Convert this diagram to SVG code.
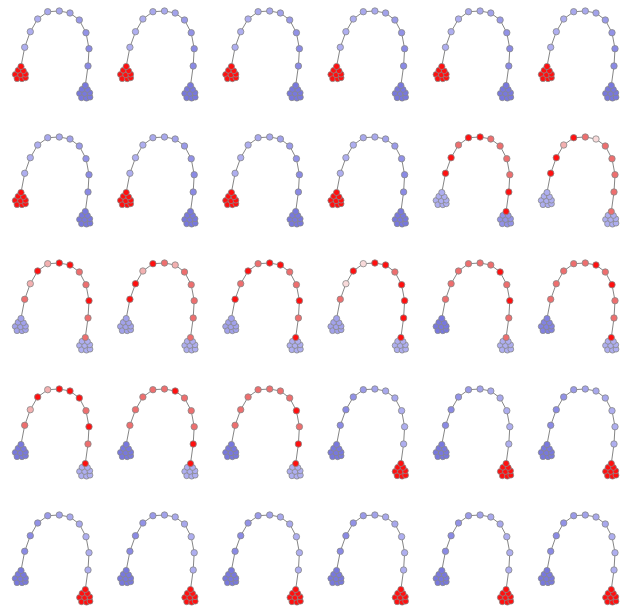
<svg xmlns="http://www.w3.org/2000/svg" xmlns:xlink="http://www.w3.org/1999/xlink" width="627" height="607" viewBox="0 0 627 607">
<style>
.pn{stroke:#888;stroke-width:0.8}
.r{fill:#ff1010}.s{fill:#ee6e6e}.p{fill:#f3b0b0}.v{fill:#f8dada}
.b{fill:#7878de}.l{fill:#aeaef0}
.g1{fill:#8282e2}.g2{fill:#8a8ae5}.g3{fill:#9292e7}.g4{fill:#9a9ae9}.g5{fill:#a2a2eb}.g6{fill:#a8a8ed}
</style>
<defs>
<g id="links" fill="none" stroke="#777" stroke-width="0.9">
<path d="M21,66.5 L24.7,47.3 L30.3,31.7 L37.7,19 L47.7,11.7 L59.3,11 L70,13 L79.3,20 L86,32.7 L89,48.7 L88,66 L85.3,85.5"/>
<path d="M21,66.5L18,70.3M21,66.5L23.5,70.8M18,70.3L23.5,70.8M18,70.3L15.2,74.5M18,70.3L20.5,74.8M23.5,70.8L20.5,74.8M23.5,70.8L25.5,74.2M15.2,74.5L20.5,74.8M20.5,74.8L25.5,74.2M15.2,74.5L17,78.7M20.5,74.8L17,78.7M20.5,74.8L22,78.8M25.5,74.2L25.5,77.8M22,78.8L25.5,77.8M17,78.7L22,78.8"/>
<path d="M85.3,85.5L82,89.3M85.3,85.5L87.5,89.5M82,89.3L87.5,89.5M82,89.3L79.5,93.5M82,89.3L84.7,93.5M87.5,89.5L84.7,93.5M87.5,89.5L89.8,92.8M79.5,93.5L84.7,93.5M84.7,93.5L89.8,92.8M79.5,93.5L81.5,97.8M84.7,93.5L81.5,97.8M84.7,93.5L86.5,98.2M89.8,92.8L90,97.2M86.5,98.2L90,97.2M81.5,97.8L86.5,98.2"/>
</g>
<g id="clL">
<circle cx="15.2" cy="74.5" r="2.9"/><circle cx="17" cy="78.7" r="2.9"/><circle cx="22" cy="78.8" r="2.9"/><circle cx="25.5" cy="77.8" r="2.9"/>
<circle cx="20.5" cy="74.8" r="2.9"/><circle cx="25.5" cy="74.2" r="2.9"/><circle cx="18" cy="70.3" r="2.9"/><circle cx="23.5" cy="70.8" r="2.9"/>
</g>
<g id="clR">
<circle cx="79.5" cy="93.5" r="2.9"/><circle cx="81.5" cy="97.8" r="2.9"/><circle cx="86.5" cy="98.2" r="2.9"/><circle cx="90" cy="97.2" r="2.9"/>
<circle cx="84.7" cy="93.5" r="2.9"/><circle cx="89.8" cy="92.8" r="2.9"/><circle cx="82" cy="89.3" r="2.9"/><circle cx="87.5" cy="89.5" r="2.9"/>
</g>
<circle id="n0" cx="21" cy="66.5" r="3.1"/>
<circle id="n1" cx="24.7" cy="47.3" r="3.2"/>
<circle id="n2" cx="30.3" cy="31.7" r="3.2"/>
<circle id="n3" cx="37.7" cy="19" r="3.2"/>
<circle id="n4" cx="47.7" cy="11.7" r="3.2"/>
<circle id="n5" cx="59.3" cy="11" r="3.2"/>
<circle id="n6" cx="70" cy="13" r="3.2"/>
<circle id="n7" cx="79.3" cy="20" r="3.2"/>
<circle id="n8" cx="86" cy="32.7" r="3.2"/>
<circle id="n9" cx="89" cy="48.7" r="3.2"/>
<circle id="n10" cx="88" cy="66" r="3.2"/>
<circle id="n11" cx="85.3" cy="85.5" r="3.1"/>
<g id="patA">
<use href="#links"/><use href="#clL" class="r"/><use href="#clR" class="b"/>
<use href="#n0" class="r"/><use href="#n1" class="l"/><use href="#n2" class="l"/><use href="#n3" class="l"/><use href="#n4" class="g6"/><use href="#n5" class="g6"/><use href="#n6" class="g5"/><use href="#n7" class="g4"/><use href="#n8" class="g3"/><use href="#n9" class="g2"/><use href="#n10" class="g2"/><use href="#n11" class="b"/>
</g>
<g id="patM">
<use href="#links"/><use href="#clL" class="b"/><use href="#clR" class="r"/>
<use href="#n0" class="b"/><use href="#n1" class="g2"/><use href="#n2" class="g2"/><use href="#n3" class="g3"/><use href="#n4" class="g4"/><use href="#n5" class="g5"/><use href="#n6" class="g6"/><use href="#n7" class="g6"/><use href="#n8" class="l"/><use href="#n9" class="l"/><use href="#n10" class="l"/><use href="#n11" class="r"/>
</g>
</defs>
<rect width="627" height="607" fill="#fff"/>

<g id="r1c1" class="pn" transform="translate(0,0)"><use href="#patA"/></g>
<g id="r1c2" class="pn" transform="translate(105.2,0)"><use href="#patA"/></g>
<g id="r1c3" class="pn" transform="translate(210.4,0)"><use href="#patA"/></g>
<g id="r1c4" class="pn" transform="translate(315.6,0)"><use href="#patA"/></g>
<g id="r1c5" class="pn" transform="translate(420.8,0)"><use href="#patA"/></g>
<g id="r1c6" class="pn" transform="translate(526,0)"><use href="#patA"/></g>

<g id="r2c1" class="pn" transform="translate(0,126)"><use href="#patA"/></g>
<g id="r2c2" class="pn" transform="translate(105.2,126)"><use href="#patA"/></g>
<g id="r2c3" class="pn" transform="translate(210.4,126)"><use href="#patA"/></g>
<g id="r2c4" class="pn" transform="translate(315.6,126)"><use href="#patA"/></g>
<g id="r2c5" class="pn" transform="translate(420.8,126)">
<use href="#links"/><use href="#clL" class="l"/><use href="#clR" class="g3"/>
<use href="#n0" class="l"/><use href="#n1" class="r"/><use href="#n2" class="r"/><use href="#n3" class="s"/><use href="#n4" class="r"/><use href="#n5" class="r"/><use href="#n6" class="s"/><use href="#n7" class="s"/><use href="#n8" class="s"/><use href="#n9" class="s"/><use href="#n10" class="r"/><use href="#n11" class="r"/>
</g>
<g id="r2c6" class="pn" transform="translate(526,126)">
<use href="#links"/><use href="#clL" class="l"/><use href="#clR" class="l"/>
<use href="#n0" class="l"/><use href="#n1" class="r"/><use href="#n2" class="r"/><use href="#n3" class="p"/><use href="#n4" class="r"/><use href="#n5" class="s"/><use href="#n6" class="v"/><use href="#n7" class="s"/><use href="#n8" class="s"/><use href="#n9" class="s"/><use href="#n10" class="s"/><use href="#n11" class="s"/>
</g>

<g id="r3c1" class="pn" transform="translate(0,252)">
<use href="#links"/><use href="#clL" class="g5"/><use href="#clR" class="l"/>
<use href="#n0" class="g5"/><use href="#n1" class="s"/><use href="#n2" class="p"/><use href="#n3" class="r"/><use href="#n4" class="p"/><use href="#n5" class="r"/><use href="#n6" class="r"/><use href="#n7" class="s"/><use href="#n8" class="s"/><use href="#n9" class="r"/><use href="#n10" class="s"/><use href="#n11" class="s"/>
</g>
<g id="r3c2" class="pn" transform="translate(105.2,252)">
<use href="#links"/><use href="#clL" class="g5"/><use href="#clR" class="l"/>
<use href="#n0" class="g5"/><use href="#n1" class="r"/><use href="#n2" class="r"/><use href="#n3" class="p"/><use href="#n4" class="r"/><use href="#n5" class="s"/><use href="#n6" class="p"/><use href="#n7" class="s"/><use href="#n8" class="s"/><use href="#n9" class="s"/><use href="#n10" class="s"/><use href="#n11" class="s"/>
</g>
<g id="r3c3" class="pn" transform="translate(210.4,252)">
<use href="#links"/><use href="#clL" class="g5"/><use href="#clR" class="l"/>
<use href="#n0" class="g5"/><use href="#n1" class="r"/><use href="#n2" class="s"/><use href="#n3" class="r"/><use href="#n4" class="s"/><use href="#n5" class="r"/><use href="#n6" class="r"/><use href="#n7" class="s"/><use href="#n8" class="s"/><use href="#n9" class="r"/><use href="#n10" class="s"/><use href="#n11" class="r"/>
</g>
<g id="r3c4" class="pn" transform="translate(315.6,252)">
<use href="#links"/><use href="#clL" class="g5"/><use href="#clR" class="l"/>
<use href="#n0" class="g5"/><use href="#n1" class="s"/><use href="#n2" class="v"/><use href="#n3" class="r"/><use href="#n4" class="v"/><use href="#n5" class="r"/><use href="#n6" class="r"/><use href="#n7" class="s"/><use href="#n8" class="r"/><use href="#n9" class="r"/><use href="#n10" class="r"/><use href="#n11" class="r"/>
</g>
<g id="r3c5" class="pn" transform="translate(420.8,252)">
<use href="#links"/><use href="#clL" class="b"/><use href="#clR" class="l"/>
<use href="#n0" class="b"/><use href="#n1" class="s"/><use href="#n2" class="s"/><use href="#n3" class="s"/><use href="#n4" class="s"/><use href="#n5" class="s"/><use href="#n6" class="s"/><use href="#n7" class="r"/><use href="#n8" class="s"/><use href="#n9" class="r"/><use href="#n10" class="s"/><use href="#n11" class="s"/>
</g>
<g id="r3c6" class="pn" transform="translate(526,252)">
<use href="#links"/><use href="#clL" class="g1"/><use href="#clR" class="l"/>
<use href="#n0" class="g1"/><use href="#n1" class="s"/><use href="#n2" class="s"/><use href="#n3" class="s"/><use href="#n4" class="s"/><use href="#n5" class="s"/><use href="#n6" class="r"/><use href="#n7" class="s"/><use href="#n8" class="r"/><use href="#n9" class="s"/><use href="#n10" class="s"/><use href="#n11" class="r"/>
</g>

<g id="r4c1" class="pn" transform="translate(0,378)">
<use href="#links"/><use href="#clL" class="b"/><use href="#clR" class="l"/>
<use href="#n0" class="b"/><use href="#n1" class="s"/><use href="#n2" class="p"/><use href="#n3" class="r"/><use href="#n4" class="p"/><use href="#n5" class="r"/><use href="#n6" class="r"/><use href="#n7" class="r"/><use href="#n8" class="s"/><use href="#n9" class="r"/><use href="#n10" class="s"/><use href="#n11" class="r"/>
</g>
<g id="r4c2" class="pn" transform="translate(105.2,378)">
<use href="#links"/><use href="#clL" class="b"/><use href="#clR" class="l"/>
<use href="#n0" class="b"/><use href="#n1" class="s"/><use href="#n2" class="s"/><use href="#n3" class="s"/><use href="#n4" class="s"/><use href="#n5" class="s"/><use href="#n6" class="r"/><use href="#n7" class="s"/><use href="#n8" class="s"/><use href="#n9" class="s"/><use href="#n10" class="r"/><use href="#n11" class="r"/>
</g>
<g id="r4c3" class="pn" transform="translate(210.4,378)">
<use href="#links"/><use href="#clL" class="b"/><use href="#clR" class="l"/>
<use href="#n0" class="b"/><use href="#n1" class="s"/><use href="#n2" class="s"/><use href="#n3" class="s"/><use href="#n4" class="s"/><use href="#n5" class="s"/><use href="#n6" class="s"/><use href="#n7" class="s"/><use href="#n8" class="r"/><use href="#n9" class="s"/><use href="#n10" class="r"/><use href="#n11" class="r"/>
</g>
<g id="r4c4" class="pn" transform="translate(315.6,378)"><use href="#patM"/></g>
<g id="r4c5" class="pn" transform="translate(420.8,378)"><use href="#patM"/></g>
<g id="r4c6" class="pn" transform="translate(526,378)"><use href="#patM"/></g>

<g id="r5c1" class="pn" transform="translate(0,504)"><use href="#patM"/></g>
<g id="r5c2" class="pn" transform="translate(105.2,504)"><use href="#patM"/></g>
<g id="r5c3" class="pn" transform="translate(210.4,504)"><use href="#patM"/></g>
<g id="r5c4" class="pn" transform="translate(315.6,504)"><use href="#patM"/></g>
<g id="r5c5" class="pn" transform="translate(420.8,504)"><use href="#patM"/></g>
<g id="r5c6" class="pn" transform="translate(526,504)"><use href="#patM"/></g>
</svg>
